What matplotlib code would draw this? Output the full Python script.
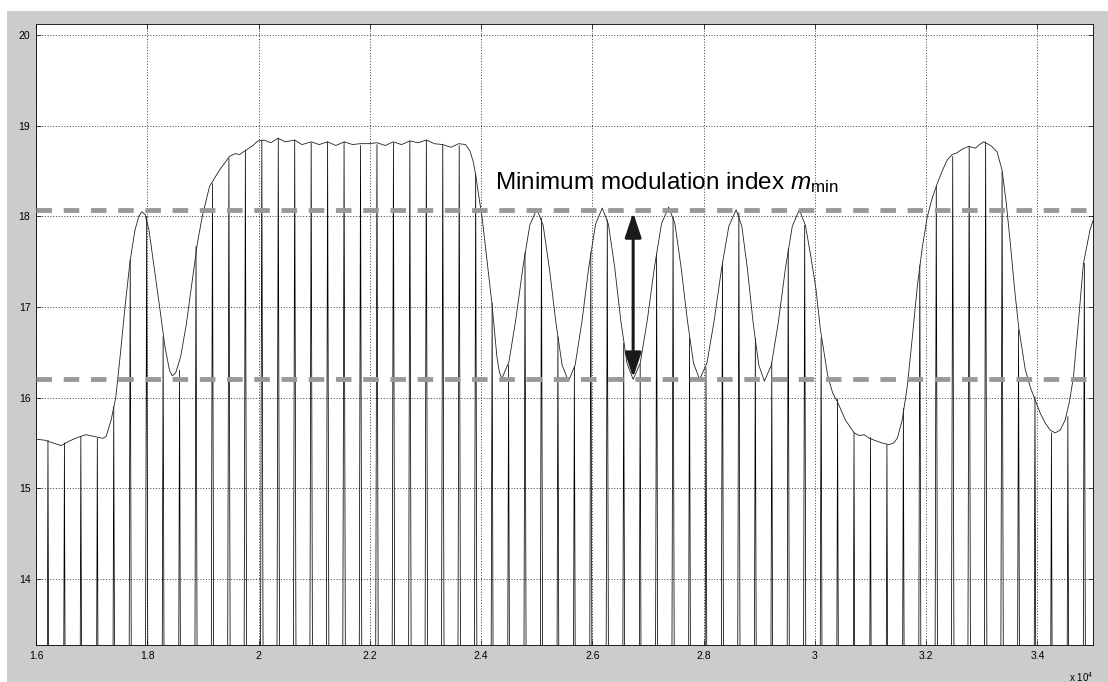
import numpy as np
import matplotlib
matplotlib.use("Agg")
import matplotlib.pyplot as plt
from matplotlib.patches import Rectangle, FancyArrowPatch

plt.rcParams['font.family'] = ['Liberation Sans', 'DejaVu Sans']
plt.rcParams['mathtext.fontset'] = 'custom'
plt.rcParams['mathtext.rm'] = 'Liberation Sans'
plt.rcParams['mathtext.it'] = 'Liberation Sans:italic'

# pulse train: regular positions, peak heights
pulse_start = 16215
pulse_step = 295.7
pulse_peaks = [15.53, 15.50, 15.57, 15.55, 15.90, 17.52, 18.00, 16.67,
               16.30, 17.67, 18.36, 18.64, 18.73, 18.84, 18.86, 18.84,
               18.81, 18.82, 18.82, 18.78, 18.79, 18.81, 18.83, 18.84,
               18.79, 18.78, 18.47, 17.04, 16.36, 17.60, 17.98, 16.67,
               16.34, 17.60, 17.96, 16.60, 16.37, 17.59, 17.99, 16.66,
               16.33, 17.49, 18.04, 16.65, 16.39, 17.64, 17.90, 16.66,
               15.98, 15.61, 15.56, 15.48, 15.88, 17.46, 18.33, 18.66,
               18.77, 18.82, 18.49, 16.75, 16.01, 15.61, 15.79, 17.48]

# envelope curve
env_x = [16000, 16150, 16300, 16450, 16600, 16750, 16900, 17050, 17200, 17260,
         17350, 17434, 17520, 17600, 17690, 17780, 17850, 17900, 17960, 18030,
         18120, 18222, 18320, 18400, 18450, 18510, 18600, 18700, 18800, 18900,
         18990, 19120, 19300, 19480, 19580, 19660, 19780, 19900, 19990,
         20100, 20220, 20350, 20480, 20650, 20780, 20950, 21090, 21240, 21390,
         21540, 21690, 21830, 21980, 22130, 22280, 22420, 22570, 22720, 22870,
         23020, 23160, 23310, 23460, 23600, 23720, 23800, 23860, 23900, 23960,
         24016, 24100, 24195, 24285, 24330, 24374,
         24500, 24625, 24751, 24876, 25002, 25116, 25229, 25343, 25456, 25570,
         25692, 25814, 25935, 26057, 26179, 26290, 26401, 26512, 26623, 26734,
         26862, 26990, 27117, 27245, 27373, 27484, 27595, 27707, 27818, 27929,
         28060, 28191, 28323, 28454, 28585, 28687, 28788, 28890, 28991, 29093,
         29219, 29344, 29470, 29595, 29721,
         29830, 29930, 30019, 30100, 30229, 30320, 30408, 30550, 30707, 30800,
         30886, 30980, 31065, 31200, 31334, 31420, 31482, 31570, 31661, 31750,
         31841, 31930, 32020, 32110, 32200, 32290, 32379, 32470, 32558, 32650,
         32767, 32886, 32960, 33036, 33100, 33180, 33275, 33365, 33440, 33514,
         33590, 33663, 33782, 33870, 33961, 34050, 34140, 34230, 34320, 34410,
         34499, 34575, 34649, 34740, 34828, 34947, 35000]
env_y = [15.54, 15.53, 15.50, 15.47, 15.52, 15.56, 15.59, 15.57, 15.55, 15.57,
         15.75, 16.00, 16.50, 17.00, 17.50, 17.85, 18.00, 18.05, 18.02, 17.85,
         17.45, 17.00, 16.55, 16.30, 16.24, 16.27, 16.45, 16.80, 17.25, 17.70,
         18.00, 18.33, 18.51, 18.66, 18.69, 18.68, 18.73, 18.78, 18.83,
         18.84, 18.81, 18.86, 18.82, 18.84, 18.79, 18.82, 18.79, 18.82, 18.78,
         18.82, 18.79, 18.80, 18.80, 18.81, 18.78, 18.82, 18.79, 18.83, 18.81,
         18.84, 18.80, 18.79, 18.76, 18.80, 18.79, 18.72, 18.60, 18.47, 18.22,
         18.00, 17.55, 17.04, 16.45, 16.28, 16.21,
         16.39, 16.86, 17.43, 17.90, 18.08, 17.90, 17.42, 16.84, 16.36, 16.18,
         16.36, 16.84, 17.43, 17.91, 18.09, 17.91, 17.44, 16.85, 16.38, 16.20,
         16.38, 16.86, 17.44, 17.92, 18.10, 17.92, 17.44, 16.86, 16.38, 16.20,
         16.38, 16.85, 17.42, 17.89, 18.07, 17.89, 17.42, 16.83, 16.36, 16.18,
         16.36, 16.83, 17.42, 17.89, 18.07,
         17.90, 17.55, 17.20, 16.75, 16.25, 16.05, 15.95, 15.75, 15.61, 15.58,
         15.59, 15.55, 15.53, 15.50, 15.48, 15.50, 15.55, 15.75, 16.12, 16.65,
         17.22, 17.65, 17.99, 18.20, 18.36, 18.50, 18.62, 18.68, 18.70, 18.74,
         18.77, 18.75, 18.79, 18.82, 18.80, 18.77, 18.71, 18.51, 18.15, 17.70,
         17.20, 16.78, 16.31, 16.12, 15.97, 15.83, 15.72, 15.64, 15.61, 15.64,
         15.75, 15.95, 16.23, 16.85, 17.48, 17.85, 17.95]

level_max = 18.07
level_min = 16.2
arrow_x = 26734
label_text = r'Minimum modulation index $m_{\mathrm{min}}$'

xticks = [16000, 18000, 20000, 22000, 24000, 26000, 28000, 30000, 32000, 34000]
xtick_labels = ['1.6', '1.8', '2', '2.2', '2.4', '2.6', '2.8', '3', '3.2', '3.4']
yticks = [14, 15, 16, 17, 18, 19, 20]

W, H = 1108, 682
fig = plt.figure(figsize=(W / 100, H / 100), dpi=100, facecolor='white')
fig.add_artist(Rectangle((7 / W, 0), 1 - 7 / W, (H - 11) / H,
                         transform=fig.transFigure, facecolor='#cccccc',
                         edgecolor='none', zorder=-10))
ax = fig.add_axes([36 / W, 37 / H, (1093 - 36) / W, (645 - 24) / H])
ax.set_facecolor('white')

# pulses drawn as narrow triangles rising from far below the axis
floor = 0.0
hw = 75
xs, ys = [], []
for i, pk in enumerate(pulse_peaks):
    p = pulse_start + pulse_step * i
    xs += [p - hw, p, p + hw, np.nan]
    ys += [floor, pk, floor, np.nan]
ax.plot(xs, ys, color='black', lw=0.55, zorder=2)

ax.plot(env_x, env_y, color='#222222', lw=0.6, zorder=3)

for lvl in (level_max, level_min):
    ax.axhline(lvl, color='#999999', lw=3.5, dashes=(3.2, 2.4), zorder=4)

arr = FancyArrowPatch((arrow_x, level_min + 0.02), (arrow_x, level_max - 0.03),
                      arrowstyle='<|-|>,head_length=1.5,head_width=0.5',
                      mutation_scale=10, color='#1a1a1a', lw=2.2,
                      shrinkA=0, shrinkB=0, zorder=5)
ax.add_patch(arr)

ax.text(24256, 18.30, label_text, fontsize=17.5, ha='left', va='baseline',
        zorder=6)

ax.set_xlim(16000, 35000)
ax.set_ylim(13.27, 20.12)
ax.set_xticks(xticks)
ax.set_xticklabels(xtick_labels)
ax.set_yticks(yticks)
ax.tick_params(direction='in', top=True, right=True, length=3.5, width=0.5,
               labelsize=7.5, pad=4)
ax.grid(True, color='black', lw=0.5, linestyle=(0, (1.5, 2.5)))
ax.set_axisbelow(True)
for sp in ax.spines.values():
    sp.set_linewidth(0.6)

ax.text(1.0, -0.04, r'x 10$^{4}$', transform=ax.transAxes, fontsize=7,
        ha='right', va='top')

fig.savefig('out.png', dpi=100, facecolor=fig.get_facecolor())
